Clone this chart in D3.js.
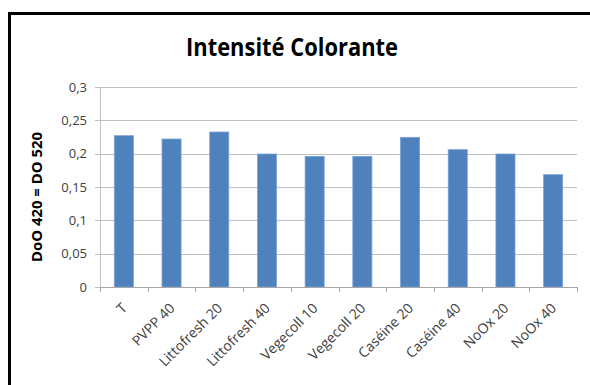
<!DOCTYPE html>
<html><head><meta charset="utf-8">
<script src="https://cdn.jsdelivr.net/npm/d3@7"></script>
<style>body{margin:0;background:#fff;} svg{display:block;}</style>
</head><body>
<script>
const categories = ["T","PVPP 40","Littofresh 20","Littofresh 40","Vegecoll 10","Vegecoll 20","Caséine 20","Caséine 40","NoOx 20","NoOx 40"];
const values = [0.227,0.222,0.2325,0.1995,0.196,0.196,0.2245,0.206,0.1995,0.1685];
const yTicks = [0,0.05,0.1,0.15,0.2,0.25,0.3];
const yTickLabels = ["0","0,05","0,1","0,15","0,2","0,25","0,3"];
const title = "Intensité Colorante";
const yTitle = "DoO 420 = DO 520";

const W=590,H=385;
const svg=d3.select("body").append("svg").attr("width",W).attr("height",H);
svg.append("rect").attr("x",9.5).attr("y",13.5).attr("width",590).attr("height",380)
  .attr("fill","#fff").attr("stroke","#000").attr("stroke-width",3);

const x=d3.scaleBand().domain(categories).range([100,577]).paddingInner(0.6).paddingOuter(0.3);
const y=d3.scaleLinear().domain([0,0.3]).range([287,87]);
const font="Open Sans, Liberation Sans, sans-serif";

// gridlines
svg.append("g").selectAll("line").data(yTicks).join("line")
  .attr("x1",95).attr("x2",577).attr("y1",d=>Math.round(y(d))+0.5).attr("y2",d=>Math.round(y(d))+0.5)
  .attr("stroke","#bfbfbf").attr("stroke-width",1);
// y axis line
svg.append("line").attr("x1",100.5).attr("x2",100.5).attr("y1",87).attr("y2",287).attr("stroke","#bfbfbf");
// y labels
svg.append("g").selectAll("text").data(yTicks).join("text")
  .attr("x",87).attr("y",d=>y(d)+4.7).attr("text-anchor","end")
  .attr("font-family",font).attr("font-size",13).attr("fill","#404040")
  .text((d,i)=>yTickLabels[i]);
// bars
svg.append("g").selectAll("rect").data(values).join("rect")
  .attr("x",(d,i)=>x(categories[i])).attr("width",x.bandwidth())
  .attr("y",d=>y(d)).attr("height",d=>y(0)-y(d))
  .attr("fill","#4f81bd").attr("stroke","#7ba3d6").attr("stroke-width",0.8);
// x axis
svg.append("line").attr("x1",100).attr("x2",577).attr("y1",287.5).attr("y2",287.5).attr("stroke","#a6a6a6");
const step=(577-100)/categories.length;
svg.append("g").selectAll("line").data(d3.range(categories.length+1)).join("line")
  .attr("x1",i=>Math.round(100+i*step)+0.5).attr("x2",i=>Math.round(100+i*step)+0.5)
  .attr("y1",287).attr("y2",292).attr("stroke","#a6a6a6");
// x labels
svg.append("g").selectAll("text").data(categories).join("text")
  .attr("transform",d=>`translate(${x(d)+x.bandwidth()/2+4},${309}) rotate(-45)`)
  .attr("text-anchor","end").attr("font-family",font).attr("font-size",14).attr("fill","#404040")
  .text(d=>d);
// title
svg.append("text").attr("x",186).attr("y",55.5)
  .attr("textLength",212).attr("lengthAdjust","spacingAndGlyphs")
  .attr("font-family",font).attr("font-weight","bold").attr("font-size",25).attr("fill","#000")
  .text(title);
// y title
svg.append("text").attr("transform","translate(42,197) rotate(-90)").attr("text-anchor","middle")
  .attr("textLength",130).attr("lengthAdjust","spacingAndGlyphs")
  .attr("font-family",font).attr("font-weight","bold").attr("font-size",14).attr("fill","#000")
  .text(yTitle);
</script>
</body></html>
